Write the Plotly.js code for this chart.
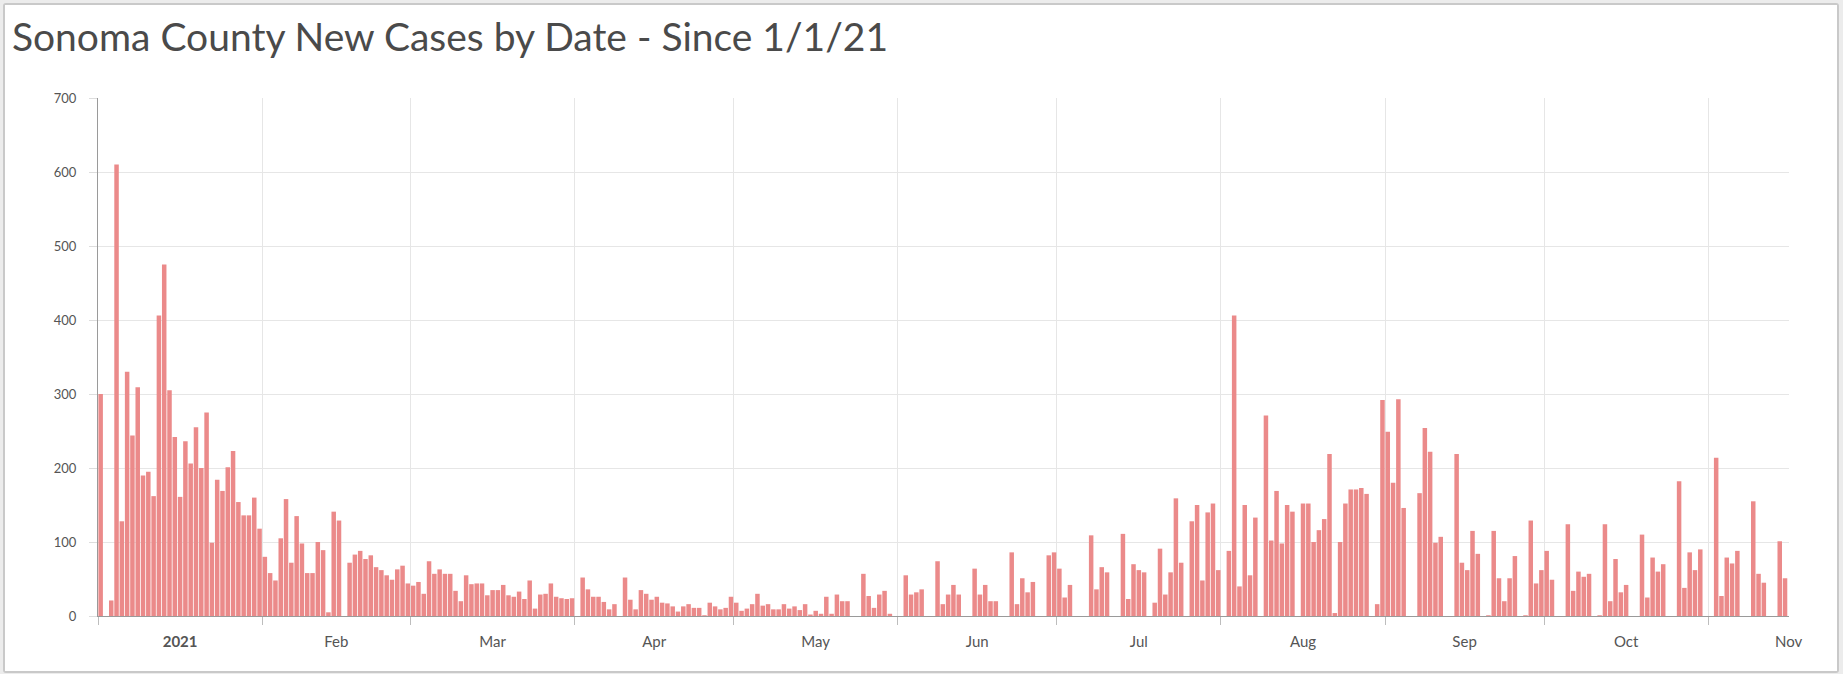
<!DOCTYPE html>
<html><head><meta charset="utf-8">
<script src="https://cdn.plot.ly/plotly-3.0.1.min.js"></script>
<style>
html,body{margin:0;padding:0;background:#ececec;width:1843px;height:674px;overflow:hidden;}
#card{position:absolute;left:3px;top:3px;width:1832px;height:666px;background:#fff;border:2px solid #c9c9c9;border-radius:3px;}
#chart{width:1832px;height:666px;}
</style></head><body><div id="card"><div id="chart"></div></div>
<script>
// Daily new cases, Sonoma County, one array per month of 2021
const YEAR = 2021;
const jan = [300,0,21,610,128,330,244,309,190,195,162,406,475,305,242,161,236,206,255,200,275,99,184,169,201,223,154,136,136,160,118];
const feb = [80,58,48,105,158,72,135,98,58,58,100,89,5,141,129,0,72,83,88,77,82,66,62,55,49,63,68,44];
const mar = [41,46,30,74,57,63,57,57,34,20,55,43,44,44,28,35,35,42,28,26,33,23,48,10,29,30,44,26,24,23,24];
const apr = [0,52,36,26,26,19,9,16,0,52,22,9,35,30,22,26,18,17,13,6,13,16,11,11,1,18,13,9,11,26];
const may = [18,7,10,16,30,14,16,9,9,16,10,13,8,16,2,7,3,26,3,29,20,20,0,0,57,27,11,29,34,3,0];
const jun = [0,55,29,32,36,0,0,74,16,29,42,29,0,0,64,29,42,20,20,0,0,86,16,51,32,46,0,0,82,86];
const jul = [64,25,42,0,0,0,109,36,66,59,0,0,111,23,70,62,59,0,18,91,29,59,159,72,0,128,150,48,140,152,62];
const aug = [0,88,406,40,150,55,133,0,271,102,169,98,150,141,0,152,152,100,116,131,219,4,100,152,171,171,173,165,0,16,292];
const sep = [249,180,293,146,0,0,166,254,222,99,107,0,0,219,72,62,115,84,0,1,115,51,20,51,81,0,1,129,44,62];
const oct = [88,49,0,0,124,34,60,53,57,0,1,124,20,77,32,42,0,0,110,25,79,60,70,0,0,182,38,86,62,90,0];
const nov = [0,214,27,79,71,88,0,0,155,57,45,0,0,101,51];

const months = [jan,feb,mar,apr,may,jun,jul,aug,sep,oct,nov];
const dates = [], cases = [];
months.forEach((arr, mi) => {
  arr.forEach((v, di) => {
    const mm = String(mi + 1).padStart(2, '0');
    const dd = String(di + 1).padStart(2, '0');
    dates.push(`${YEAR}-${mm}-${dd}`);
    cases.push(v);
  });
});
const xEnd = '2021-11-16 06:00';

const FONT = 'Lato, "Open Sans", sans-serif';
const trace = {
  type: 'bar', x: dates, y: cases,
  xperiod: 86400000, xperiodalignment: 'middle',
  marker: {color: '#eb8a8a', line: {width: 0}},
  hoverinfo: 'x+y'
};
const layout = {
  width: 1832, height: 666,
  margin: {l: 92.5, r: 47.5, t: 92.6, b: 55},
  paper_bgcolor: '#ffffff', plot_bgcolor: '#ffffff',
  bargap: 0.15,
  showlegend: false,
  title: {text: 'Sonoma County New Cases by Date - Since 1/1/21', xref: 'container', yref: 'container',
          x: 0.0038, xanchor: 'left', y: 0.951, yanchor: 'middle',
          font: {family: FONT, size: 39, color: '#4a4a4a'}},
  xaxis: {
    type: 'date', range: ['2021-01-01', xEnd],
    tickmode: 'linear', tick0: '2021-01-01', dtick: 'M1', tickformat: '%b',
    ticklabelmode: 'period', labelalias: {'Jan': '<b>2021</b>'},
    ticklabelstandoff: 4,
    showgrid: true, gridcolor: '#e6e6e6', gridwidth: 1,
    showline: true, linecolor: '#9a9a9a', linewidth: 1,
    ticks: 'outside', ticklen: 8, tickcolor: '#bdbdbd',
    tickfont: {family: FONT, size: 15, color: '#555555'},
    zeroline: false, fixedrange: true
  },
  yaxis: {
    range: [0, 700], tickmode: 'linear', tick0: 0, dtick: 100,
    showgrid: true, gridcolor: '#e6e6e6', gridwidth: 1,
    showline: true, linecolor: '#9a9a9a', linewidth: 1,
    ticks: 'outside', ticklen: 8, tickcolor: '#dddddd',
    ticklabelstandoff: 10,
    tickfont: {family: FONT, size: 13, color: '#555555'},
    zeroline: false, fixedrange: true
  },
  annotations: [{
    text: 'Nov', xref: 'x', yref: 'paper', x: xEnd, y: 0,
    xanchor: 'center', yanchor: 'middle', yshift: -25, showarrow: false,
    font: {family: FONT, size: 15, color: '#555555'}
  }]
};
Plotly.newPlot('chart', [trace], layout, {displayModeBar: false, staticPlot: true});
</script></body></html>
